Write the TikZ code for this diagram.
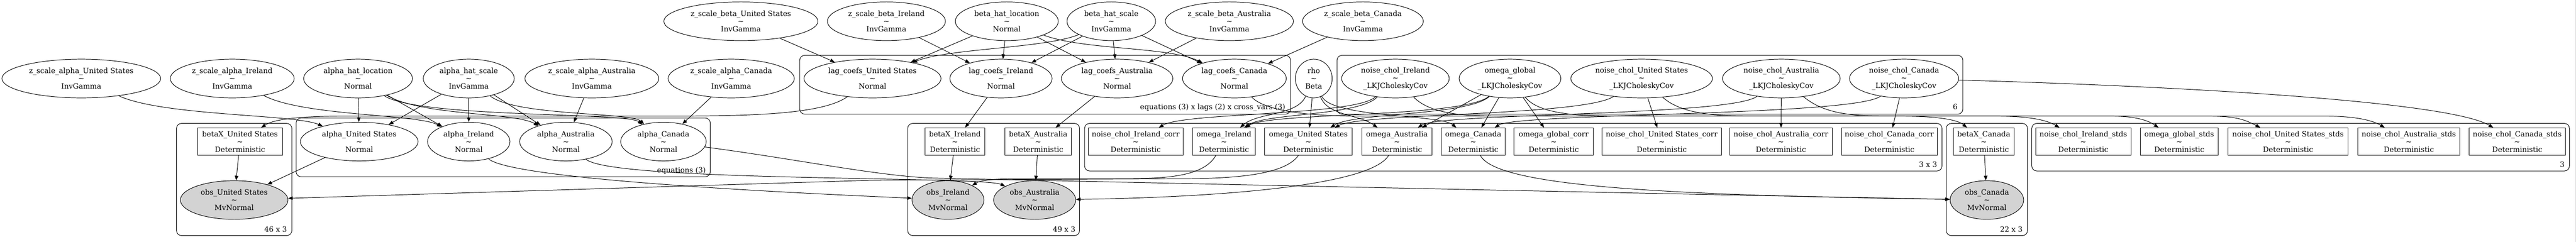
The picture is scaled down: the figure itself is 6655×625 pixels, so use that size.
\documentclass[tikz,border=0pt]{standalone}
\usepackage{fontspec}
\setmainfont{DejaVu Serif}
\usetikzlibrary{shapes.geometric,arrows.meta}
\definecolor{obsfill}{HTML}{D3D3D3}

\begin{document}
\begin{tikzpicture}[x=0.5pt,y=-0.5pt,
        font=\fontsize{9.4pt}{10pt}\selectfont,
        line width=0.65pt,
        rv/.style={draw,ellipse,inner sep=0pt,minimum height=50pt,align=center},
        obsrv/.style={rv,fill=obsfill},
        det/.style={draw,rectangle,inner sep=0pt,minimum height=35.5pt,align=center},
        plate/.style={draw,rounded corners=6.5pt},
        platelab/.style={anchor=east,inner sep=0pt},
        edge/.style={-{Triangle[length=6pt,width=4.6pt]}}]
        \useasboundingbox (0,0) rectangle (6655,625);
        \fill[gray!20] (6652,0) rectangle (6655,625);

        % plates
        \draw[plate] (456,319) rectangle (754,609);
        \draw[plate] (765,305) rectangle (1835,457);
        \draw[plate] (2066,143) rectangle (3334,295);
        \draw[plate] (2345,319) rectangle (2789,609);
        \draw[plate] (3454,143) rectangle (5071,295);
        \draw[plate] (2802,319) rectangle (5017,442);
        \draw[plate] (5028,319) rectangle (5238,609);
        \draw[plate] (5249,319) rectangle (6638,442);
        \node[platelab] (lab46) at (742,593) {46 x 3};
        \node[platelab] (labeq) at (1824,441) {equations (3)};
        \node[platelab] (lablag) at (3321,278) {equations (3) x lags (2) x cross\_vars (3)};
        \node[platelab] (lab49) at (2779,593) {49 x 3};
        \node[platelab] (lab6) at (5058,276) {6};
        \node[platelab] (lab33) at (5005,425) {3 x 3};
        \node[platelab] (lab22) at (5226,593) {22 x 3};
        \node[platelab] (lab3) at (6626,425) {3};

        % top row
        \node[rv,minimum width=199pt] (zbUS) at (1914,55) {z\_scale\_beta\_United States\\\textasciitilde\\InvGamma};
        \node[rv,minimum width=152.5pt] (zbIE) at (2290,55) {z\_scale\_beta\_Ireland\\\textasciitilde\\InvGamma};
        \node[rv,minimum width=133pt] (bhl) at (2601,55) {beta\_hat\_location\\\textasciitilde\\Normal};
        \node[rv,minimum width=114.5pt] (bhs) at (2871,55) {beta\_hat\_scale\\\textasciitilde\\InvGamma};
        \node[rv,minimum width=165.5pt] (zbAU) at (3176,55) {z\_scale\_beta\_Australia\\\textasciitilde\\InvGamma};
        \node[rv,minimum width=156pt] (zbCA) at (3521,55) {z\_scale\_beta\_Canada\\\textasciitilde\\InvGamma};

        % second row
        \node[rv,minimum width=205pt] (zaUS) at (210,203) {z\_scale\_alpha\_United States\\\textasciitilde\\InvGamma};
        \node[rv,minimum width=160pt] (zaIE) at (600,203) {z\_scale\_alpha\_Ireland\\\textasciitilde\\InvGamma};
        \node[rv,minimum width=140.5pt] (ahl) at (925,203) {alpha\_hat\_location\\\textasciitilde\\Normal};
        \node[rv,minimum width=117.5pt] (ahs) at (1211,203) {alpha\_hat\_scale\\\textasciitilde\\InvGamma};
        \node[rv,minimum width=173pt] (zaAU) at (1529,203) {z\_scale\_alpha\_Australia\\\textasciitilde\\InvGamma};
        \node[rv,minimum width=163pt] (zaCA) at (1889,203) {z\_scale\_alpha\_Canada\\\textasciitilde\\InvGamma};
        \node[rv,minimum width=177pt] (lcUS) at (2254,203) {lag\_coefs\_United States\\\textasciitilde\\Normal};
        \node[rv,minimum width=132pt] (lcIE) at (2586,203) {lag\_coefs\_Ireland\\\textasciitilde\\Normal};
        \node[rv,minimum width=144pt] (lcAU) at (2886,203) {lag\_coefs\_Australia\\\textasciitilde\\Normal};
        \node[rv,minimum width=134pt] (lcCA) at (3189,203) {lag\_coefs\_Canada\\\textasciitilde\\Normal};
        \node[rv,minimum width=47.5pt] (rho) at (3394,203) {rho\\\textasciitilde\\Beta};
        \node[rv,minimum width=139pt] (ncIE) at (3605,203) {noise\_chol\_Ireland\\\textasciitilde\\\_LKJCholeskyCov};
        \node[rv,minimum width=131.5pt] (og) at (3901,203) {omega\_global\\\textasciitilde\\\_LKJCholeskyCov};
        \node[rv,minimum width=183pt] (ncUS) at (4241,203) {noise\_chol\_United States\\\textasciitilde\\\_LKJCholeskyCov};
        \node[rv,minimum width=152pt] (ncAU) at (4602,203) {noise\_chol\_Australia\\\textasciitilde\\\_LKJCholeskyCov};
        \node[rv,minimum width=141pt] (ncCA) at (4919,203) {noise\_chol\_Canada\\\textasciitilde\\\_LKJCholeskyCov};

        % third row
        \node[det,minimum width=110pt] (bxUS) at (620,366) {betaX\_United States\\\textasciitilde\\Deterministic};
        \node[rv,minimum width=152pt] (aUS) at (928,366) {alpha\_United States\\\textasciitilde\\Normal};
        \node[rv,minimum width=106.5pt] (aIE) at (1211,366) {alpha\_Ireland\\\textasciitilde\\Normal};
        \node[rv,minimum width=119.5pt] (aAU) at (1462,366) {alpha\_Australia\\\textasciitilde\\Normal};
        \node[rv,minimum width=110.5pt] (aCA) at (1714,366) {alpha\_Canada\\\textasciitilde\\Normal};
        \node[det,minimum width=77.5pt] (bxIE) at (2467,366) {betaX\_Ireland\\\textasciitilde\\Deterministic};
        \node[det,minimum width=86pt] (bxAU) at (2682,366) {betaX\_Australia\\\textasciitilde\\Deterministic};
        \node[det,minimum width=122.5pt] (ncIEc) at (2934,366) {noise\_chol\_Ireland\_corr\\\textasciitilde\\Deterministic};
        \node[det,minimum width=81.5pt] (omIE) at (3162,366) {omega\_Ireland\\\textasciitilde\\Deterministic};
        \node[det,minimum width=113.5pt] (omUS) at (3380,366) {omega\_United States\\\textasciitilde\\Deterministic};
        \node[det,minimum width=90pt] (omAU) at (3609,366) {omega\_Australia\\\textasciitilde\\Deterministic};
        \node[det,minimum width=82.5pt] (omCA) at (3806,366) {omega\_Canada\\\textasciitilde\\Deterministic};
        \node[det,minimum width=102.5pt] (ogc) at (4014,366) {omega\_global\_corr\\\textasciitilde\\Deterministic};
        \node[det,minimum width=154.5pt] (ncUSc) at (4293,366) {noise\_chol\_United States\_corr\\\textasciitilde\\Deterministic};
        \node[det,minimum width=132pt] (ncAUc) at (4601,366) {noise\_chol\_Australia\_corr\\\textasciitilde\\Deterministic};
        \node[det,minimum width=124pt] (ncCAc) at (4881,366) {noise\_chol\_Canada\_corr\\\textasciitilde\\Deterministic};
        \node[det,minimum width=78.5pt] (bxCA) at (5125,366) {betaX\_Canada\\\textasciitilde\\Deterministic};
        \node[det,minimum width=123pt] (ncIEs) at (5382,366) {noise\_chol\_Ireland\_stds\\\textasciitilde\\Deterministic};
        \node[det,minimum width=101pt] (ogs) at (5630,366) {omega\_global\_stds\\\textasciitilde\\Deterministic};
        \node[det,minimum width=155pt] (ncUSs) at (5911,366) {noise\_chol\_United States\_stds\\\textasciitilde\\Deterministic};
        \node[det,minimum width=131.5pt] (ncAUs) at (6223,366) {noise\_chol\_Australia\_stds\\\textasciitilde\\Deterministic};
        \node[det,minimum width=124.5pt] (ncCAs) at (6503,366) {noise\_chol\_Canada\_stds\\\textasciitilde\\Deterministic};

        % observed
        \node[obsrv,minimum width=139pt] (obsUS) at (605,517) {obs\_United States\\\textasciitilde\\MvNormal};
        \node[obsrv,minimum width=93pt] (obsIE) at (2449,517) {obs\_Ireland\\\textasciitilde\\MvNormal};
        \node[obsrv,minimum width=106pt] (obsAU) at (2673,517) {obs\_Australia\\\textasciitilde\\MvNormal};
        \node[obsrv,minimum width=95pt] (obsCA) at (5133,517) {obs\_Canada\\\textasciitilde\\MvNormal};

        % alpha priors
        \draw[edge] (zaUS) .. controls (420,300) and (760,295) .. (aUS);
        \draw[edge] (zaIE) .. controls (780,300) and (1080,295) .. (aIE);
        \draw[edge] (ahl) -- (aUS);
        \draw[edge] (ahl) -- (aIE);
        \draw[edge] (ahl) .. controls (1090,300) and (1330,290) .. (aAU);
        \draw[edge] (ahl) .. controls (1080,305) and (1620,290) .. (aCA);
        \draw[edge] (ahs) -- (aUS);
        \draw[edge] (ahs) -- (aIE);
        \draw[edge] (ahs) -- (aAU);
        \draw[edge] (ahs) .. controls (1330,300) and (1630,290) .. (aCA);
        \draw[edge] (zaAU) -- (aAU);
        \draw[edge] (zaCA) -- (aCA);

        % alpha -> obs
        \draw[edge] (aUS) -- (obsUS);
        \draw[edge] (aIE) .. controls (1330,470) and (2200,505) .. (obsIE);
        \draw[edge] (aAU) .. controls (1580,470) and (2540,455) .. (obsAU);
        \draw[edge] (aCA) .. controls (2050,410) and (2250,452) .. (2400,460) .. controls (3400,482) and (4500,505) .. (obsCA);

        % beta priors
        \draw[edge] (zbUS) -- (lcUS);
        \draw[edge] (zbIE) -- (lcIE);
        \draw[edge] (bhl) -- (lcUS);
        \draw[edge] (bhl) -- (lcIE);
        \draw[edge] (bhl) -- (lcAU);
        \draw[edge] (bhl) .. controls (2800,130) and (3020,120) .. (lcCA);
        \draw[edge] (bhs) .. controls (2700,125) and (2450,125) .. (lcUS);
        \draw[edge] (bhs) -- (lcIE);
        \draw[edge] (bhs) -- (lcAU);
        \draw[edge] (bhs) -- (lcCA);
        \draw[edge] (zbAU) -- (lcAU);
        \draw[edge] (zbCA) -- (lcCA);

        % lags -> betaX -> obs
        \draw[edge] (lcUS) .. controls (2120,300) and (1900,300) .. (1700,300) -- (900,300) .. controls (760,300) and (705,310) .. (bxUS);
        \draw[edge] (lcIE) -- (bxIE);
        \draw[edge] (lcAU) -- (bxAU);
        \draw[edge] (lcCA) .. controls (3270,290) and (3400,300) .. (3500,300) -- (4900,300) .. controls (5020,300) and (5060,312) .. (bxCA);
        \draw[edge] (bxUS) -- (obsUS);
        \draw[edge] (bxIE) -- (obsIE);
        \draw[edge] (bxAU) -- (obsAU);
        \draw[edge] (bxCA) -- (obsCA);

        % rho
        \draw[edge] (rho) -- (omUS);
        \draw[edge] (rho) .. controls (3350,300) and (3250,290) .. (omIE);
        \draw[edge] (rho) .. controls (3430,300) and (3510,295) .. (omAU);
        \draw[edge] (rho) .. controls (3440,305) and (3720,295) .. (omCA);

        % omega_global
        \draw[edge] (og) -- (omCA);
        \draw[edge] (og) -- (ogc);
        \draw[edge] (og) -- (omAU);
        \draw[edge] (og) .. controls (3790,300) and (3500,290) .. (omUS);
        \draw[edge] (og) .. controls (3780,305) and (3280,290) .. (omIE);
        \draw[edge] (og) .. controls (3980,300) and (4100,300) .. (4200,300) -- (5450,300) .. controls (5520,300) and (5550,312) .. (ogs);

        % noise_chol
        \draw[edge] (ncIE) .. controls (3500,300) and (3060,290) .. (ncIEc);
        \draw[edge] (ncIE) .. controls (3510,300) and (3270,292) .. (omIE);
        \draw[edge] (ncIE) .. controls (3700,300) and (3800,300) .. (3900,300) -- (5150,300) .. controls (5250,300) and (5290,312) .. (ncIEs);
        \draw[edge] (ncUS) -- (ncUSc);
        \draw[edge] (ncUS) .. controls (4090,300) and (3520,292) .. (omUS);
        \draw[edge] (ncUS) .. controls (4350,300) and (4450,300) .. (4550,300) -- (5700,300) .. controls (5780,300) and (5800,310) .. (ncUSs);
        \draw[edge] (ncAU) -- (ncAUc);
        \draw[edge] (ncAU) .. controls (4470,300) and (3720,292) .. (omAU);
        \draw[edge] (ncAU) .. controls (4720,300) and (4800,300) .. (4900,300) -- (6000,300) .. controls (6090,300) and (6130,312) .. (ncAUs);
        \draw[edge] (ncCA) -- (ncCAc);
        \draw[edge] (ncCA) .. controls (4790,300) and (3920,292) .. (omCA);
        \draw[edge] (ncCA) .. controls (5700,225) and (6330,265) .. (ncCAs);

        % omega -> obs
        \draw[edge] (omUS) .. controls (3320,450) and (3200,462) .. (3050,462) -- (2250,466) -- (obsUS);
        \draw[edge] (omIE) .. controls (3110,455) and (3020,462) .. (2900,462) -- (2620,462) .. controls (2560,462) and (2530,468) .. (obsIE);
        \draw[edge] (omAU) .. controls (3540,480) and (3150,510) .. (obsAU);
        \draw[edge] (omCA) .. controls (3870,490) and (4400,505) .. (obsCA);
    \end{tikzpicture}
\end{document}
